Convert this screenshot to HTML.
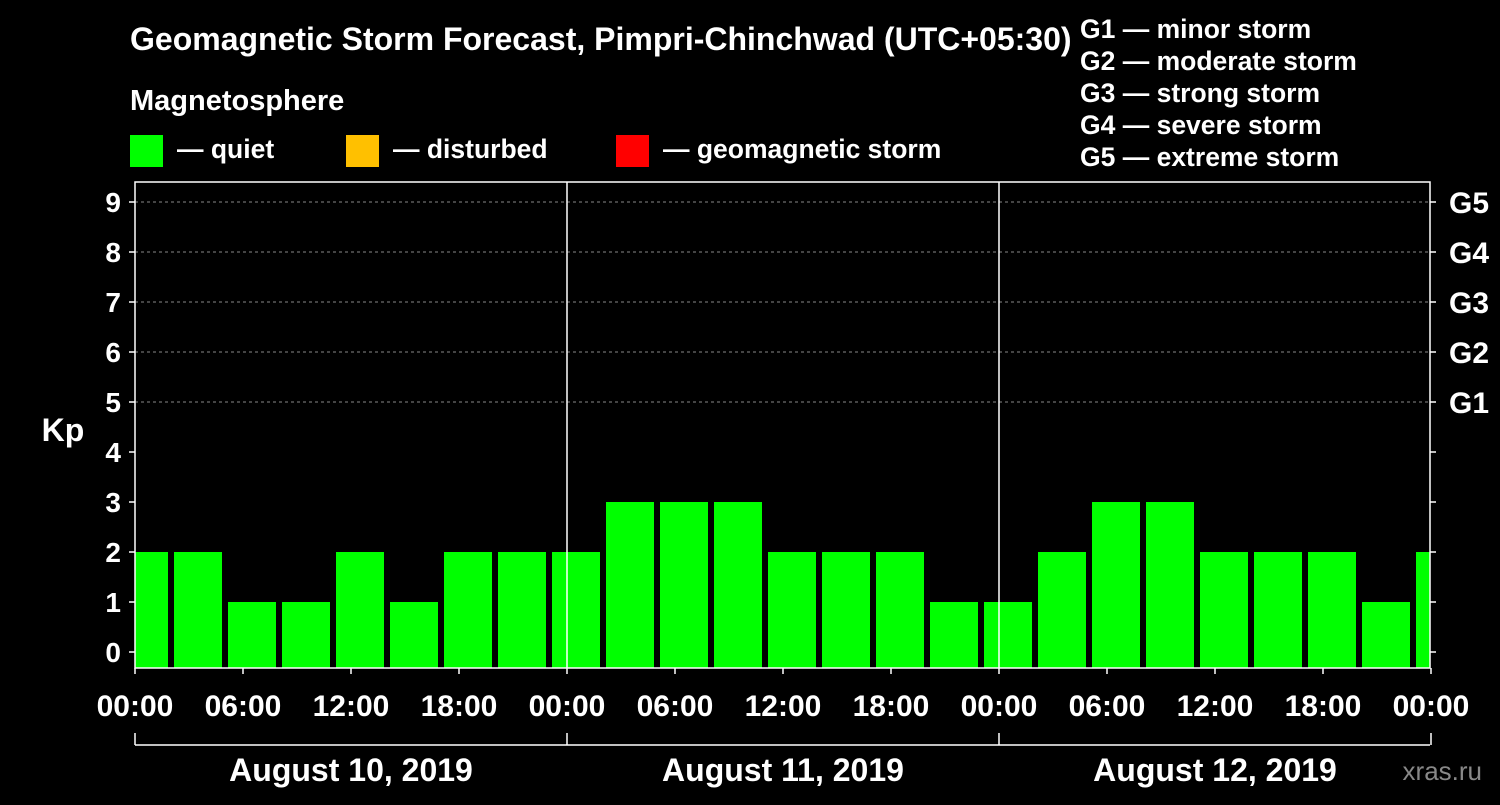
<!DOCTYPE html>
<html><head><meta charset="utf-8"><style>
html,body{margin:0;padding:0;background:#000;}
svg text{font-family:"Liberation Sans",sans-serif;font-weight:bold;fill:#fff;}
</style></head><body>
<svg id="c" width="1500" height="800" xmlns="http://www.w3.org/2000/svg">
<rect width="1500" height="800" fill="#000"/>
<text x="130" y="50" font-size="32">Geomagnetic Storm Forecast, Pimpri-Chinchwad (UTC+05:30)</text>
<text x="130" y="110" font-size="29">Magnetosphere</text>
<rect x="130" y="135" width="33" height="32" fill="#00ff00"/>
<text x="177" y="158" font-size="26.5">— quiet</text>
<rect x="346" y="135" width="33" height="32" fill="#ffc000"/>
<text x="393" y="158" font-size="26.5">— disturbed</text>
<rect x="616" y="135" width="33" height="32" fill="#ff0000"/>
<text x="663" y="158" font-size="26.5">— geomagnetic storm</text>
<g font-size="26.5">
<text x="1080" y="38">G1 — minor storm</text>
<text x="1080" y="70">G2 — moderate storm</text>
<text x="1080" y="102">G3 — strong storm</text>
<text x="1080" y="134">G4 — severe storm</text>
<text x="1080" y="166">G5 — extreme storm</text>
</g>
<text x="63" y="441" font-size="32" text-anchor="middle">Kp</text>
<text x="1482" y="780" font-size="26" text-anchor="end" style="fill:#888;font-weight:normal">xras.ru</text>
<g id="plot"></g>
</svg>
<script>
const values=[2,2,1,1,2,1,2,2,2,3,3,3,2,2,2,1,1,2,3,3,2,2,2,1,2];
const yTicks=[0,1,2,3,4,5,6,7,8,9];
const gLabels=["G1","G2","G3","G4","G5"];
const xTickLabels=["00:00","06:00","12:00","18:00","00:00","06:00","12:00","18:00","00:00","06:00","12:00","18:00","00:00"];
const dates=["August 10, 2019","August 11, 2019","August 12, 2019"];
const L=135,R=1430,T=182,B=668;
const y=v=>652-50*v;
const x=h=>L+18*h;
const NS="http://www.w3.org/2000/svg";
const g=document.getElementById('plot');
function mk(t,a){const e=document.createElementNS(NS,t);for(const k in a)e.setAttribute(k,a[k]);g.appendChild(e);return e;}
yTicks.forEach(v=>{
 if(v>=5){const l=mk('line',{x1:L,x2:R,y1:y(v),y2:y(v),stroke:'#888','stroke-dasharray':'3,3','stroke-width':1});
 
 }
});
const clip=mk('clipPath',{id:'pc'});clip.appendChild(document.createElementNS(NS,'rect'));
const cr=clip.firstChild;cr.setAttribute('x',L);cr.setAttribute('y',T);cr.setAttribute('width',R-L);cr.setAttribute('height',B-T);
values.forEach((v,i)=>{
 const c=x(0.5+3*i);
 const r=mk('rect',{x:c-24,y:y(v),width:48,height:B-y(v),fill:'#00ff00','clip-path':'url(#pc)'});
 
 
});
[1,2].forEach(d=>{const l=mk('line',{x1:x(24*d),x2:x(24*d),y1:T,y2:B,stroke:'#fff','stroke-width':1.5});
 
 });
const f=mk('rect',{x:L,y:T,width:R-L,height:B-T,fill:'none',stroke:'#fff','stroke-width':1.5});


yTicks.forEach(v=>{
 mk('line',{x1:L-6,x2:L,y1:y(v),y2:y(v),stroke:'#fff','stroke-width':1.5});
 mk('line',{x1:R,x2:R+6,y1:y(v),y2:y(v),stroke:'#fff','stroke-width':1.5});
 const t=mk('text',{x:L-14,y:y(v)+10,'font-size':28,'text-anchor':'end'});t.textContent=v;
 
 
});
gLabels.forEach((s,i)=>{const t=mk('text',{x:R+19,y:y(5+i)+11,'font-size':30});t.textContent=s;
 
 });
xTickLabels.forEach((s,i)=>{
 mk('line',{x1:x(6*i),x2:x(6*i),y1:B,y2:B+6,stroke:'#fff','stroke-width':1.5});
 const t=mk('text',{x:x(6*i),y:716,'font-size':30,'text-anchor':'middle'});t.textContent=s;
 
 
});
mk('line',{x1:L,x2:R,y1:745,y2:745,stroke:'#fff','stroke-width':1.5});
[0,1,2,3].forEach(d=>mk('line',{x1:x(24*d),x2:x(24*d),y1:733,y2:745,stroke:'#fff','stroke-width':1.5}));
dates.forEach((s,i)=>{const t=mk('text',{x:x(24*i+12),y:781,'font-size':32,'text-anchor':'middle'});t.textContent=s;
 
 });
</script>
</body></html>
